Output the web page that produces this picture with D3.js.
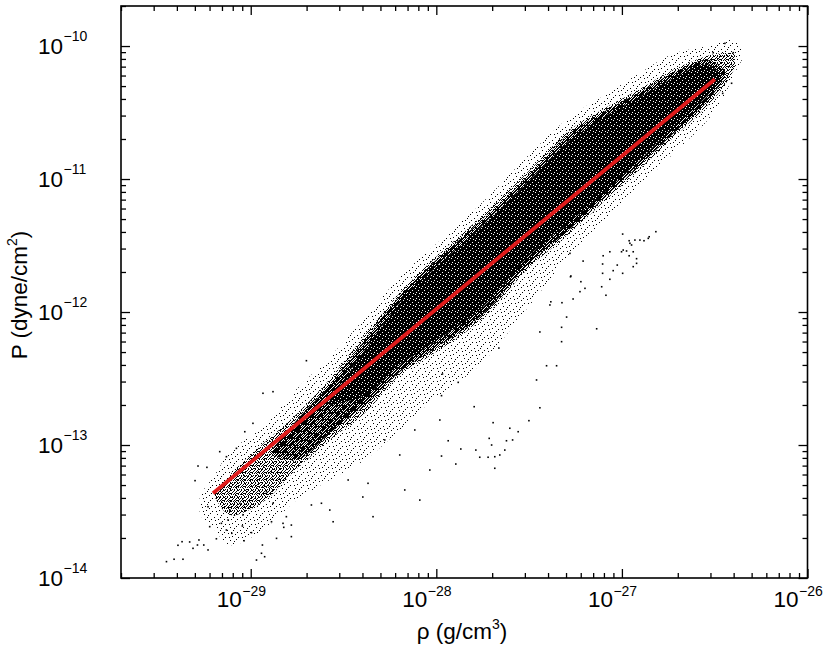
<!DOCTYPE html>
<html>
<head>
<meta charset="utf-8">
<script src="https://cdn.jsdelivr.net/npm/d3@7/dist/d3.min.js"></script>
<style>
  html, body { margin: 0; padding: 0; background: #fff; }
  svg { display: block; font-family: "Liberation Sans", Arial, Helvetica, sans-serif; }
</style>
</head>
<body>
<svg id="chart" width="830" height="657"></svg>
<script>
// ---------------- DATA (log10 values) ----------------
const rhoDomain = [2e-30, 1e-26];
const pDomain = [1e-14, 2e-10];

const xMajorTicks = [1e-29, 1e-28, 1e-27, 1e-26];
const xTickExponents = ["\u221229", "\u221228", "\u221227", "\u221226"];
const yMajorTicks = [1e-14, 1e-13, 1e-12, 1e-11, 1e-10];
const yTickExponents = ["\u221214", "\u221213", "\u221212", "\u221211", "\u221210"];

// sparse envelope of the point cloud (log10 rho, log10 P top / bottom)
const haloLogRho = [-29.275, -29.194, -29.113, -28.935, -28.752, -28.574, -28.385, -28.197, -28.019, -27.766, -27.496, -27.280, -27.081, -26.903, -26.725, -26.542, -26.456, -26.391, -26.353];
const haloTopLogP = [-13.376, -13.226, -13.053, -12.865, -12.579, -12.338, -12.045, -11.737, -11.511, -11.195, -10.812, -10.534, -10.361, -10.203, -10.060, -10.000, -9.962, -9.962, -10.030];
const haloBotLogP = [-13.526, -13.639, -13.752, -13.639, -13.414, -13.263, -13.113, -12.887, -12.662, -12.398, -11.947, -11.571, -11.301, -11.053, -10.812, -10.564, -10.391, -10.203, -10.105];

// main body of the cloud
const coreLogRho = [-29.194, -29.113, -28.935, -28.752, -28.574, -28.385, -28.197, -28.019, -27.766, -27.496, -27.280, -27.081, -26.903, -26.725, -26.542, -26.456, -26.391];
const coreTopLogP = [-13.361, -13.226, -12.992, -12.767, -12.504, -12.173, -11.857, -11.609, -11.293, -10.932, -10.632, -10.459, -10.323, -10.180, -10.075, -10.053, -10.053];
const coreBotLogP = [-13.391, -13.526, -13.429, -13.180, -12.962, -12.759, -12.474, -12.316, -12.068, -11.662, -11.406, -11.150, -10.925, -10.692, -10.451, -10.316, -10.165];

// denser inner part of the cloud
const innerLogRho = [-28.880, -28.752, -28.574, -28.385, -28.197, -28.019, -27.766, -27.496, -27.280, -27.081, -26.903, -26.725, -26.542, -26.445];
const innerTopLogP = [-13.023, -12.812, -12.549, -12.211, -11.880, -11.632, -11.323, -10.962, -10.654, -10.481, -10.346, -10.203, -10.105, -10.180];
const innerBotLogP = [-13.075, -13.113, -12.910, -12.699, -12.451, -12.286, -12.038, -11.632, -11.376, -11.120, -10.895, -10.662, -10.421, -10.241];

// densest ridge of the cloud
const denseLogRho = [-28.574, -28.385, -28.197, -28.019, -27.766, -27.496, -27.280, -27.081, -26.903, -26.725, -26.542, -26.472];
const denseTopLogP = [-12.662, -12.286, -11.932, -11.684, -11.368, -11.008, -10.707, -10.519, -10.383, -10.241, -10.135, -10.211];
const denseBotLogP = [-12.699, -12.624, -12.398, -12.233, -11.985, -11.571, -11.323, -11.083, -10.857, -10.617, -10.376, -10.256];

// individually visible scattered points
const ptLogRho = [
  -29.454, -29.413, -29.365, -29.370, -29.311, -29.287, -29.230, -29.253, -29.221, -29.230,
  -29.284, -29.236, -29.300, -29.158, -29.122, -29.113, -29.042, -29.059, -28.969, -28.942,
  -28.925, -28.937, -28.861, -28.826, -28.781, -28.808, -28.915, -28.880, -28.673, -28.619,
  -28.574, -28.556, -28.475, -28.368, -28.341, -28.396, -29.167, -29.131, -29.077, -28.934,
  -28.880, -28.988, -29.032, -28.700, -29.392, -29.329, -29.279, -29.185, -29.131, -29.102,
  -29.045, -29.036, -28.996, -28.822, -28.781, -28.888, -27.967, -27.882, -27.972, -27.796,
  -27.694, -27.604, -27.559, -27.501, -27.442, -27.715, -27.702, -27.622, -27.589, -27.631,
  -27.658, -27.685, -27.721, -27.766, -27.787, -27.868, -27.936, -27.972, -27.895, -27.685,
  -27.406, -27.352, -27.442, -27.325, -27.325, -27.136, -27.298, -27.663, -27.323, -27.263,
  -27.226, -27.199, -27.275, -27.221, -27.086, -27.109, -27.065, -27.104, -27.047, -26.996,
  -27.104, -27.025, -26.939, -26.921, -26.961, -26.921, -26.975, -27.002, -26.948, -26.961,
  -26.930, -26.881, -26.853, -26.817, -26.996, -27.065, -27.101, -27.209, -27.280, -27.383,
  -27.388, -26.858, -26.903, -26.957, -26.993, -26.939, -27.277, -26.409, -26.457, -26.445,
  -26.400, -26.508, -27.460, -28.278, -28.197, -28.116, -28.035, -28.170, -27.981, -28.089
];
const ptLogP = [
  -13.877, -13.859, -13.859, -13.727, -13.777, -13.752, -13.789, -13.752, -13.614, -13.464,
  -13.158, -13.168, -13.268, -13.589, -13.564, -13.489, -13.526, -13.438, -13.865, -13.814,
  -13.840, -13.752, -13.702, -13.589, -13.689, -13.539, -13.351, -13.438, -13.451, -13.438,
  -13.489, -13.577, -13.263, -13.288, -13.539, -13.391, -13.050, -13.088, -13.025, -12.611,
  -12.599, -12.837, -12.900, -12.366, -13.754, -13.729, -13.714, -13.705, -13.639, -13.664,
  -13.609, -13.720, -13.659, -13.619, -13.602, -13.577, -12.466, -12.529, -12.629, -12.712,
  -12.832, -12.874, -12.900, -12.817, -12.720, -12.950, -13.000, -12.968, -12.962, -13.038,
  -13.075, -13.088, -13.092, -13.092, -13.038, -13.030, -12.968, -13.083, -13.143, -13.175,
  -12.404, -12.404, -12.150, -12.223, -12.115, -12.126, -12.038, -12.271, -11.930, -11.902,
  -11.847, -11.822, -11.729, -11.772, -11.874, -11.810, -11.754, -11.709, -11.689, -11.709,
  -11.639, -11.647, -11.659, -11.634, -11.577, -11.599, -11.541, -11.547, -11.496, -11.464,
  -11.459, -11.464, -11.434, -11.396, -11.414, -11.547, -11.577, -11.617, -11.559, -11.923,
  -11.947, -11.446, -11.459, -11.483, -11.534, -11.547, -11.735, -10.280, -10.356, -9.980,
  -10.050, -10.050, -12.511, -12.962, -13.075, -12.887, -13.188, -13.338, -12.812, -13.414
];

// power-law fit line (end points)
const fitLogRho = [-29.203, -26.499];
const fitLogP = [-13.363, -10.250];

// ---------------- STYLE / LAYOUT ----------------
const plot = { left: 121, right: 807.5, top: 6, bottom: 578 };

const svg = d3.select("#chart");
const x = d3.scaleLog().domain(rhoDomain).range([plot.left, plot.right]);
const y = d3.scaleLog().domain(pDomain).range([plot.bottom, plot.top]);
const p10 = v => Math.pow(10, v);

// stipple fill patterns (pure texture, no data)
const defs = svg.append("defs");
function stipple(id, size, bg, fg, dots) {
  const pat = defs.append("pattern").attr("id", id)
    .attr("patternUnits", "userSpaceOnUse")
    .attr("width", size[0]).attr("height", size[1]);
  pat.append("rect").attr("width", size[0]).attr("height", size[1]).attr("fill", bg);
  pat.selectAll("rect.d").data(dots).join("rect").attr("class", "d")
    .attr("x", d => d[0]).attr("y", d => d[1])
    .attr("width", 1).attr("height", 1).attr("fill", fg)
    .attr("shape-rendering", "crispEdges");
}
stipple("haloPat", [13, 13], "none", "#000",
  [[1,1],[7,0],[11,3],[4,4],[9,7],[0,8],[6,10],[12,10],[3,12],[8,4],[2,6],[10,12]]);
stipple("corePat", [7, 7], "none", "#000",
  [[0,0],[3,0],[5,1],[1,2],[4,2],[6,3],[2,4],[0,4],[5,5],[3,6],[1,6],[4,4],[6,0],[2,1],[0,3],[5,3],[3,3],[6,6]]);
stipple("innerPat", [5, 5], "none", "#000",
  [[0,0],[1,0],[3,0],[4,1],[0,1],[2,1],[1,2],[3,2],[4,2],[0,3],[2,3],[3,3],[1,4],[2,4],[4,4]]);
stipple("densePat", [6, 6], "#000", "#fff",
  [[1,0],[4,2],[2,4],[5,5]]);

function bandArea(lr, top, bot, fill) {
  const data = lr.map((v, i) => ({ r: p10(v), t: p10(top[i]), b: p10(bot[i]) }));
  const area = d3.area()
    .x(d => x(d.r)).y0(d => y(d.b)).y1(d => y(d.t))
    .curve(d3.curveCatmullRom.alpha(0.5));
  svg.append("path").datum(data).attr("d", area).attr("fill", fill).attr("stroke", "none");
}
bandArea(haloLogRho, haloTopLogP, haloBotLogP, "url(#haloPat)");
bandArea(coreLogRho, coreTopLogP, coreBotLogP, "url(#corePat)");
bandArea(innerLogRho, innerTopLogP, innerBotLogP, "url(#innerPat)");
bandArea(denseLogRho, denseTopLogP, denseBotLogP, "url(#densePat)");

// scattered points
const pts = ptLogRho.map((v, i) => ({ r: p10(v), p: p10(ptLogP[i]) }));
svg.append("g").selectAll("rect").data(pts).join("rect")
  .attr("x", d => x(d.r) - 0.8).attr("y", d => y(d.p) - 0.8)
  .attr("width", 1.6).attr("height", 1.6).attr("fill", "#000");

// fit line
const fitData = fitLogRho.map((v, i) => ({ r: p10(v), p: p10(fitLogP[i]) }));
svg.append("path").datum(fitData)
  .attr("d", d3.line().x(d => x(d.r)).y(d => y(d.p)))
  .attr("fill", "none").attr("stroke", "#e01c1c").attr("stroke-width", 3.8)
  .attr("stroke-linecap", "butt");

// ticks (inward on all four sides)
function minorTicks(domain) {
  const out = [];
  const lo = Math.floor(Math.log10(domain[0])), hi = Math.ceil(Math.log10(domain[1]));
  for (let e = lo; e < hi; e++) for (let m = 2; m <= 9; m++) {
    const v = m * Math.pow(10, e);
    if (v >= domain[0] * 0.999 && v <= domain[1] * 1.001) out.push(v);
  }
  return out;
}
const xMinor = minorTicks(rhoDomain), yMinor = minorTicks(pDomain);
function addAxis(axis, tx, ty) {
  const g = svg.append("g").attr("transform", `translate(${tx},${ty})`).call(axis);
  g.select(".domain").remove();
  g.selectAll("line").attr("stroke", "#000").attr("stroke-width", 1.3);
  g.selectAll("text").remove();
}
addAxis(d3.axisBottom(x).tickValues(xMajorTicks).tickSize(-9).tickFormat(""), 0, plot.bottom);
addAxis(d3.axisBottom(x).tickValues(xMinor).tickSize(-5).tickFormat(""), 0, plot.bottom);
addAxis(d3.axisTop(x).tickValues(xMajorTicks).tickSize(-9).tickFormat(""), 0, plot.top);
addAxis(d3.axisTop(x).tickValues(xMinor).tickSize(-5).tickFormat(""), 0, plot.top);
addAxis(d3.axisLeft(y).tickValues(yMajorTicks).tickSize(-9).tickFormat(""), plot.left, 0);
addAxis(d3.axisLeft(y).tickValues(yMinor).tickSize(-5).tickFormat(""), plot.left, 0);
addAxis(d3.axisRight(y).tickValues(yMajorTicks).tickSize(-9).tickFormat(""), plot.right, 0);
addAxis(d3.axisRight(y).tickValues(yMinor).tickSize(-5).tickFormat(""), plot.right, 0);

// frame
svg.append("rect")
  .attr("x", plot.left).attr("y", plot.top)
  .attr("width", plot.right - plot.left).attr("height", plot.bottom - plot.top)
  .attr("fill", "none").attr("stroke", "#000").attr("stroke-width", 1.6);

// tick labels
const labG = svg.append("g").attr("fill", "#000");
xMajorTicks.forEach((v, i) => {
  const px = x(v);
  labG.append("text").attr("x", px - 9).attr("y", 607).attr("text-anchor", "end")
    .attr("font-size", 22.5).text("10");
  labG.append("text").attr("x", px - 8.5).attr("y", 596).attr("text-anchor", "start")
    .attr("font-size", 14).text(xTickExponents[i]);
});
yMajorTicks.forEach((v, i) => {
  const py = y(v);
  labG.append("text").attr("x", 63).attr("y", py + 8).attr("text-anchor", "end")
    .attr("font-size", 22.5).text("10");
  labG.append("text").attr("x", 63.5).attr("y", py - 5).attr("text-anchor", "start")
    .attr("font-size", 14).text(yTickExponents[i]);
});

// axis titles
const xt = svg.append("text").attr("x", 462).attr("y", 639).attr("text-anchor", "middle")
  .attr("font-size", 22.5);
xt.append("tspan").text("\u03c1 (g/cm");
xt.append("tspan").attr("font-size", 14).attr("dy", -10).text("3");
xt.append("tspan").attr("dy", 10).text(")");

const yt = svg.append("text").attr("transform", "translate(27,295) rotate(-90)")
  .attr("text-anchor", "middle").attr("font-size", 22.5);
yt.append("tspan").text("P (dyne/cm");
yt.append("tspan").attr("font-size", 14).attr("dy", -10).text("2");
yt.append("tspan").attr("dy", 10).text(")");
</script>
</body>
</html>
